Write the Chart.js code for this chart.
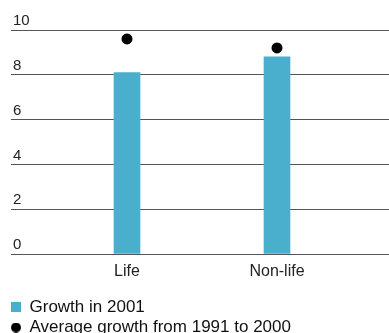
<!DOCTYPE html>
<html>
<head>
<meta charset="utf-8">
<script src="https://cdn.jsdelivr.net/npm/chart.js@4"></script>
<style>
  html, body { margin: 0; padding: 0; background: #fff; }
  #wrap { width: 389px; height: 333px; }
</style>
</head>
<body>
<div id="wrap"><canvas id="growth-chart"></canvas></div>
<script>
// premium growth, in %
var categories = ['Life', 'Non-life'];
var growth2001 = [8.1, 8.8];
var avgGrowth9100 = [9.6, 9.2];
var yTicks = [0, 2, 4, 6, 8, 10];

var barColor = '#4aafcd';
var gridColor = '#555555';
var fontFamily = "'Liberation Sans', Arial, Helvetica, sans-serif";

// small round marker for the legend entry of the dots
function dotIcon(size) {
    var c = document.createElement('canvas');
    c.width = size;
    c.height = size;
    var g = c.getContext('2d');
    g.fillStyle = '#000';
    g.beginPath();
    g.arc(size / 2, size / 2, size / 2, 0, Math.PI * 2);
    g.fill();
    return c;
}

const ctx = document.getElementById('growth-chart');

new Chart(ctx, {
    type: 'bar',
    data: {
        datasets: [{
            label: 'Growth in 2001',
            data: growth2001.map(function (v, i) { return {x: i, y: v}; }),
            backgroundColor: barColor,
            borderWidth: 0,
            barThickness: 26,
            order: 2
        }, {
            type: 'scatter',
            label: 'Average growth from 1991 to 2000',
            data: avgGrowth9100.map(function (v, i) { return {x: i, y: v}; }),
            backgroundColor: '#000',
            borderWidth: 0,
            pointRadius: 5.5,
            order: 1
        }]
    },
    options: {
        responsive: true,
        maintainAspectRatio: false,
        animation: false,
        layout: {
            autoPadding: false,
            padding: {left: 7.5, right: 0, top: 30, bottom: -13}
        },
        scales: {
            x: {
                type: 'linear',
                offset: false,
                min: -0.7733,
                max: 1.7467,
                afterBuildTicks: function (scale) {
                    scale.ticks = categories.map(function (c, i) { return {value: i}; });
                },
                afterFit: function (scale) { scale.height = 41; },
                grid: { display: false, drawTicks: false },
                border: { display: false },
                ticks: {
                    padding: 8,
                    color: '#222',
                    font: { family: fontFamily, size: 16 },
                    callback: function (value) { return categories[value]; }
                }
            },
            y: {
                min: 0,
                max: 10,
                afterBuildTicks: function (scale) {
                    scale.ticks = yTicks.map(function (v) { return {value: v}; });
                },
                afterFit: function (scale) { scale.width = 3.5; },
                grid: { color: gridColor, lineWidth: 1, drawTicks: false },
                border: { display: false },
                ticks: {
                    mirror: true,
                    padding: 2,
                    labelOffset: -9,
                    color: '#222',
                    font: { family: fontFamily, size: 15 }
                }
            }
        },
        plugins: {
            tooltip: { enabled: false },
            legend: {
                position: 'bottom',
                align: 'start',
                labels: {
                    usePointStyle: true,
                    boxWidth: 10,
                    boxHeight: 10,
                    padding: 3.5,
                    color: '#111',
                    font: { family: fontFamily, size: 17 },
                    generateLabels: function (chart) {
                        return chart.data.datasets.map(function (ds, i) {
                            return {
                                text: ds.label,
                                fillStyle: ds.backgroundColor,
                                strokeStyle: ds.backgroundColor,
                                lineWidth: 0,
                                pointStyle: i === 0 ? 'rect' : dotIcon(10),
                                fontColor: '#111',
                                datasetIndex: i
                            };
                        });
                    }
                }
            }
        }
    }
});
</script>
</body>
</html>
